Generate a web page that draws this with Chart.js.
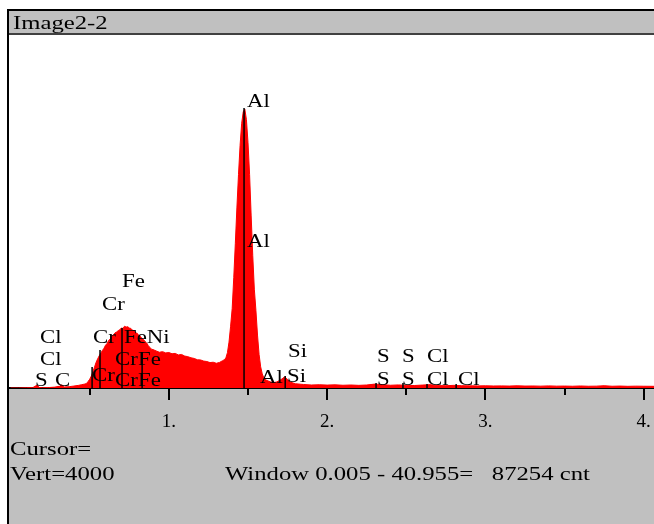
<!DOCTYPE html>
<html lang="en">
<head>
<meta charset="UTF-8">
<title>Image2-2</title>
<script src="https://cdn.jsdelivr.net/npm/chart.js"></script>
<style>
  html, body { margin: 0; padding: 0; background: #fff; }
  canvas { display: block; }
</style>
</head>
<body>
<canvas id="spectrum" width="654" height="524"></canvas>
<script>
// spectrum, energy in keV, counts per channel (full scale Vert=4000)
const energy = [
  0.00, 0.05, 0.10, 0.14, 0.16, 0.17, 0.18, 0.20, 0.24, 0.28, 0.31, 0.32, 0.33, 0.34, 0.37, 0.40, 0.43, 0.45, 0.47,
  0.48, 0.49, 0.50, 0.51, 0.52, 0.53, 0.54, 0.55, 0.56, 0.57, 0.58, 0.59, 0.60, 0.61, 0.62, 0.63, 0.64, 0.65, 0.66, 0.67, 0.68, 0.69,
  0.70, 0.71, 0.72, 0.73, 0.74, 0.75, 0.76, 0.77, 0.78, 0.79, 0.80, 0.81, 0.82, 0.83, 0.84, 0.85, 0.86, 0.87, 0.88, 0.89, 0.90,
  0.92, 0.94, 0.96, 0.98, 1.00, 1.02, 1.04, 1.06, 1.08, 1.10, 1.12, 1.14, 1.16, 1.18, 1.20, 1.22, 1.24, 1.26, 1.28, 1.30, 1.32, 1.34,
  1.35, 1.36, 1.37, 1.38, 1.39, 1.40, 1.41, 1.42, 1.43, 1.44, 1.45, 1.46, 1.47, 1.48, 1.49, 1.50, 1.51, 1.52, 1.53, 1.54, 1.55,
  1.56, 1.57, 1.58, 1.59, 1.60, 1.61, 1.62,
  1.64, 1.66, 1.68, 1.70, 1.72, 1.73, 1.74, 1.75, 1.77, 1.80,
  1.85, 1.90, 1.95, 2.00, 2.05, 2.10, 2.15, 2.20, 2.25, 2.30, 2.35, 2.40, 2.45, 2.50, 2.55, 2.60, 2.65, 2.70, 2.75, 2.80,
  2.85, 2.90, 2.95, 3.00, 3.05, 3.10, 3.15, 3.20, 3.25, 3.30, 3.35, 3.40, 3.45, 3.50, 3.55, 3.60, 3.65, 3.70, 3.75, 3.80,
  3.85, 3.90, 3.95, 4.00, 4.065
];
const counts = [
  0, 0, 2, 4, 25, 30, 6, 3, 5, 10, 20, 35, 28, 12, 15, 22, 30, 38, 45,
  52, 75, 100, 135, 185, 235, 290, 330, 365, 395, 425, 450, 485, 505, 540, 555, 590, 600, 625, 635, 650, 660,
  680, 675, 700, 690, 695, 680, 675, 655, 650, 625, 620, 595, 585, 560, 550, 525, 510, 480, 460, 440, 435,
  420, 405, 412, 398, 402, 388, 392, 375, 380, 362, 355, 342, 335, 320, 318, 305, 300, 288, 292, 280, 290, 310,
  320, 340, 400, 520, 700, 900, 1250, 1640, 2050, 2420, 2750, 3000, 3130, 3160, 3040, 2780, 2420, 1950, 1500, 1120, 880,
  600, 380, 240, 160, 115, 95, 85,
  70, 60, 68, 85, 110, 125, 115, 95, 65, 48,
  40, 34, 37, 33, 36, 31, 34, 30, 34, 44, 38, 31, 35, 30, 28, 33, 38, 27, 26, 30,
  26, 25, 24, 25, 23, 24, 22, 25, 22, 23, 21, 24, 21, 22, 20, 23, 20, 21, 26, 20,
  22, 19, 21, 20, 19
];

// element marker labels: text, left edge (keV), baseline (counts)
const markerNames = ['Al', 'Al', 'Al', 'Si', 'Si', 'S', 'S', 'S', 'S', 'Cl', 'Cl', 'Cl',
  'Cl', 'Cl', 'S', 'C', 'Fe', 'Cr', 'Cr', 'FeNi', 'Cr', 'Fe', 'Cr', 'Cr', 'Fe'];
const markerKeV = [1.494, 1.494, 1.576, 1.753, 1.747, 2.315, 2.315, 2.473, 2.473, 2.631, 2.631, 2.827,
  0.186, 0.186, 0.155, 0.281, 0.704, 0.578, 0.521, 0.717, 0.660, 0.805, 0.515, 0.660, 0.805];
const markerCnt = [3184, 1598, 57, 351, 68, 295, 34, 295, 34, 295, 34, 34,
  510, 261, 23, 23, 1144, 884, 510, 510, 261, 261, 79, 23, 23];

// marker lines: energy (keV) and top (counts)
const lineKeV = [1.475, 0.515, 0.565, 0.704, 0.831, 1.735, 2.309, 2.479, 2.631, 2.815];
const lineTop = [3172, 238, 430, 680, 408, 136, 57, 57, 45, 45];

const titleText = 'Image2-2';
const cursorText = 'Cursor=';
const vertText = 'Vert=4000';
const windowText = 'Window 0.005 - 40.955=   87254 cnt';

const FONT = '19px "Liberation Serif"';

function wideText(ctx, text, x, y, sx) {
  ctx.save();
  ctx.translate(x, y);
  ctx.scale(sx, 1);
  ctx.fillText(text, 0, 0);
  ctx.restore();
}

const frame = {
  id: 'frame',
  beforeDraw(chart) {
    const ctx = chart.ctx, a = chart.chartArea, w = chart.width, h = chart.height;
    ctx.save();
    ctx.fillStyle = '#fff';
    ctx.fillRect(0, 0, w, h);
    ctx.fillStyle = '#c0c0c0';
    ctx.fillRect(9, 11, w - 9, 22);
    ctx.fillRect(9, a.bottom, w - 9, h - a.bottom);
    ctx.fillStyle = '#000';
    ctx.fillRect(7, 9, w - 7, 2);
    ctx.fillRect(7, 9, 2, h - 9);
    ctx.fillStyle = '#404040';
    ctx.fillRect(9, 33, w - 9, 2);
    ctx.fillStyle = '#000';
    ctx.font = FONT;
    ctx.textBaseline = 'alphabetic';
    wideText(ctx, titleText, 13, 29, 1.3);
    ctx.restore();
  },
  afterDatasetsDraw(chart) {
    const ctx = chart.ctx, xs = chart.scales.x, ys = chart.scales.y;
    ctx.save();
    ctx.strokeStyle = '#000';
    ctx.lineWidth = 1.5;
    lineKeV.forEach((e, i) => {
      const px = xs.getPixelForValue(e);
      ctx.beginPath();
      ctx.moveTo(px, ys.getPixelForValue(0));
      ctx.lineTo(px, ys.getPixelForValue(lineTop[i]));
      ctx.stroke();
    });
    ctx.fillStyle = '#000';
    ctx.font = FONT;
    ctx.textBaseline = 'alphabetic';
    markerNames.forEach((name, i) => {
      wideText(ctx, name, xs.getPixelForValue(markerKeV[i]), ys.getPixelForValue(markerCnt[i]), 1.2);
    });
    ctx.restore();
  },
  afterDraw(chart) {
    const ctx = chart.ctx, a = chart.chartArea, xs = chart.scales.x;
    ctx.save();
    ctx.fillStyle = '#000';
    xs.ticks.forEach(t => {
      if (t.value <= 0) return;
      const px = Math.round(xs.getPixelForValue(t.value));
      ctx.fillRect(px - 1, a.bottom, 2, Number.isInteger(t.value) ? 12 : 7);
    });
    ctx.font = FONT;
    ctx.textBaseline = 'alphabetic';
    wideText(ctx, cursorText, 10, 455, 1.3);
    wideText(ctx, vertText, 10, 480, 1.3);
    wideText(ctx, windowText, 225, 480, 1.3);
    ctx.restore();
  }
};

new Chart(document.getElementById('spectrum'), {
  type: 'line',
  data: {
    datasets: [{
      data: energy.map((e, i) => ({ x: e, y: counts[i] })),
      borderColor: '#ff0000',
      backgroundColor: '#ff0000',
      borderWidth: 1,
      fill: 'origin',
      pointRadius: 0,
      tension: 0
    }]
  },
  options: {
    responsive: false,
    animation: false,
    layout: { autoPadding: false, padding: { left: 9, top: 35, right: 0, bottom: 0 } },
    plugins: { legend: { display: false }, tooltip: { enabled: false } },
    scales: {
      x: {
        type: 'linear',
        min: -0.01,
        max: 4.065,
        z: 1,
        afterFit(scale) {
          scale.height = 136;
          scale.paddingLeft = 0;
          scale.paddingRight = 0;
        },
        grid: { drawOnChartArea: false, drawTicks: true, tickLength: 12, tickColor: 'rgba(0,0,0,0)' },
        border: { display: true, color: '#000', width: 2 },
        ticks: {
          stepSize: 0.5,
          includeBounds: false,
          autoSkip: false,
          maxRotation: 0,
          padding: 11,
          color: '#000',
          font: { family: 'Liberation Serif', size: 19 },
          callback: v => (Number.isInteger(v) && v > 0) ? v + '.' : ''
        }
      },
      y: { display: false, min: 0, max: 4000 }
    }
  },
  plugins: [frame]
});
</script>
</body>
</html>
